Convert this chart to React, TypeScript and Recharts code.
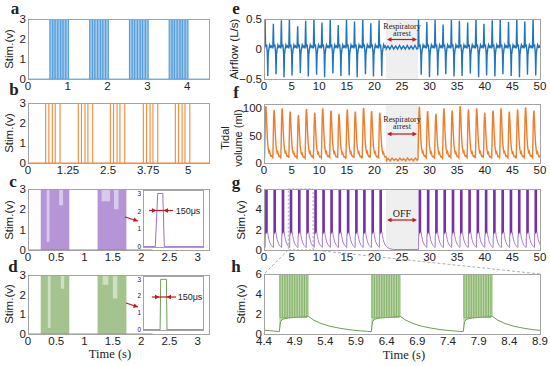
import React from "react";
import { ComposedChart, Line, Area, XAxis, YAxis, ReferenceArea } from "recharts";

const SANS = "'Liberation Sans', Arial, Helvetica, sans-serif";
const SERIF = "'Liberation Serif', 'Times New Roman', serif";
const INK = "#222";
const FRAME = "#a3a3a3";
const RED = "#c4161c";

// ---------- panel a ----------
const aTicks = [0, 1, 2, 3, 4];
const stimTicks = [0, 1, 2, 3];
const aBurstStart = [0.55, 1.55, 2.55, 3.55];
const aBurstEnd = [1.02, 2.02, 3.02, 4.02];
const aPulseOffsets = [0, 0.07, 0.13, 0.2, 0.27, 0.33, 0.4, 0.47];
const stimAmp = 3;

// ---------- panel b ----------
const bTicks = [0, 1.25, 2.5, 3.75, 5];
const bGroupStart = [0.55, 1.57, 2.57, 3.6, 4.6];
const bPulseOffsets = [0, 0.1, 0.21, 0.3, 0.45];

// ---------- panels c, d ----------
const cdTicks = [0, 0.5, 1, 1.5, 2, 2.5, 3];
const cdBurstStart = [0.225, 1.23];
const cdBurstEnd = [0.73, 1.74];
const cLightStart = [0.33, 0.55, 1.3, 1.52];
const cLightEnd = [0.38, 0.62, 1.45, 1.6];
const cLightLow = [0.4, 2.2, 2.4, 2.0];
const dLightStart = [0.35, 0.58, 1.32, 1.5];
const dLightEnd = [0.4, 0.64, 1.42, 1.58];
const dLightLow = [0.3, 2.3, 2.5, 1.8];
const cInsetT = [0, 205, 245, 330, 355, 1000];
const cInsetV = [0, 0, 3, 3, 0, 0];
const dInsetT = [0, 285, 295, 390, 400, 1000];
const dInsetV = [0, 0, 3, 3, 0, 0];

// ---------- panels e, f, g ----------
const longTicks = [0, 5, 10, 15, 20, 25, 30, 35, 40, 45, 50];
const arrestStart = 22.1;
const arrestEnd = 27.9;
const breathPre = [0.1, 1.6, 3.05, 4.5, 6.0, 7.45, 8.95, 10.4, 11.9, 13.35, 14.85, 16.3, 17.8, 19.25, 20.75];
const breathPost = [27.9, 29.4, 30.9, 32.35, 33.85, 35.3, 36.8, 38.3, 39.75, 41.25, 42.7, 44.2, 45.7, 47.15, 48.65];
const airShapeT = [0, 0.05, 0.1, 0.17, 0.26, 0.38, 0.5, 0.58, 0.66, 0.78, 0.92, 1.08, 1.22, 1.38];
const airShapeV = [0.02, 0.3, 0.5, 0.1, 0.05, 0.06, -0.06, -0.45, -0.1, 0.0, 0.07, 0.03, 0.05, 0.02];
const airPeak = [0.5, 0.42, 0.48, 0.5, 0.38, 0.47, 0.5, 0.44, 0.49, 0.4, 0.5, 0.46, 0.5, 0.43, 0.48,
  0.5, 0.45, 0.49, 0.41, 0.5, 0.47, 0.44, 0.5, 0.42, 0.48, 0.5, 0.45, 0.49, 0.46, 0.5];
const airTrough = [-0.45, -0.42, -0.47, -0.44, -0.4, -0.46, -0.43, -0.47, -0.41, -0.45, -0.44, -0.47, -0.42, -0.46, -0.45,
  -0.43, -0.47, -0.44, -0.42, -0.46, -0.45, -0.41, -0.47, -0.44, -0.46, -0.42, -0.45, -0.47, -0.43, -0.44];
const airRippleT = [22.15, 22.45, 22.8, 23.15, 23.5, 23.85, 24.2, 24.55, 24.9, 25.25, 25.6, 25.95, 26.3, 26.65, 27.0, 27.35, 27.7, 27.88];
const airRippleV = [0.0, 0.05, 0.0, 0.06, 0.0, 0.05, 0.0, 0.06, 0.0, 0.05, 0.0, 0.06, 0.0, 0.05, 0.0, 0.06, 0.0, 0.01];

const volShapeT = [0, 0.07, 0.14, 0.2, 0.26, 0.33, 0.43, 0.53, 0.65, 0.78, 0.9, 1.02, 1.15, 1.3, 1.44];
const volShapeV = [10, 42, 80, 97, 100, 86, 60, 40, 26, 19, 21, 15, 12, 13, 10];
const volPeak = [104, 97, 100, 94, 88, 99, 92, 100, 96, 90, 98, 94, 101, 95, 92,
  103, 95, 90, 100, 96, 104, 98, 100, 92, 96, 100, 94, 98, 102, 96];
const volRippleT = [22.2, 22.5, 22.85, 23.2, 23.55, 23.9, 24.25, 24.6, 24.95, 25.3, 25.65, 26.0, 26.35, 26.7, 27.05, 27.4, 27.75, 27.88];
const volRippleV = [4, 8, 4, 9, 5, 8, 4, 9, 5, 8, 4, 9, 5, 8, 4, 9, 5, 6];

const stimPre = [0.2, 1.7, 3.2, 4.65, 6.15, 7.65, 9.1, 10.55, 12.0, 13.5, 15.0, 16.5, 17.95, 19.45, 20.9];
const stimPost = [28.0, 29.5, 31.0, 32.5, 34.0, 35.5, 37.0, 38.5, 40.0, 41.5, 43.0, 44.5, 46.0, 47.5, 49.0];
const burstLen = 0.48;
const curveShapeT = [0, 0.02, 0.06, 0.15, 0.3, 0.48, 0.55, 0.68, 0.82, 0.98, 1.15, 1.32, 1.44];
const curveShapeV = [0.25, 1.25, 1.5, 1.6, 1.68, 1.75, 1.42, 1.05, 0.78, 0.58, 0.42, 0.32, 0.26];
const curveOffT = [22.8, 23.5, 27.95];
const curveOffV = [0.12, 0.05, 0.05];
const stimTicks6 = [0, 2, 4, 6];
const stimMax = 6;

// ---------- panel h ----------
const hTicks = [4.4, 4.9, 5.4, 5.9, 6.4, 6.9, 7.4, 7.9, 8.4, 8.9];
const zoomStart = 4.4;
const zoomEnd = 8.9;
const hOnsets = [4.65, 6.15, 7.65];
const hPulseOffsets = [0.01, 0.05, 0.09, 0.13, 0.17, 0.21, 0.25, 0.29, 0.33, 0.37, 0.41, 0.45];
const hCurveStart = 0.38;

type Row = { t: number; [k: string]: any };

// ---------- build rows ----------
function burstBlock(rows: Row[], key: string, starts: number[], ends: number[], top: number) {
  starts.forEach((s, i) => {
    rows.push({ t: s, [key]: 0 }, { t: s, [key]: top }, { t: ends[i], [key]: top }, { t: ends[i], [key]: 0 });
  });
}
function rangeBlock(rows: Row[], key: string, starts: number[], ends: number[], lows: number[], top: number) {
  starts.forEach((s, i) => {
    rows.push({ t: s, [key]: [lows[i], top] }, { t: ends[i], [key]: [lows[i], top] }, { t: ends[i], [key]: null });
  });
}

const rowsA: Row[] = [];
burstBlock(rowsA, "fill", aBurstStart, aBurstEnd, stimAmp);
rowsA.push({ t: 0, line: 0 });
aBurstStart.forEach((s) => aPulseOffsets.forEach((o) => rowsA.push({ t: s + o, line: 0 }, { t: s + o, line: stimAmp }, { t: s + o, line: 0 })));
rowsA.push({ t: 4.55, line: 0 });

const rowsB: Row[] = [{ t: 0, line: 0 }];
bGroupStart.forEach((s) => bPulseOffsets.forEach((o) => rowsB.push({ t: s + o, line: 0 }, { t: s + o, line: stimAmp }, { t: s + o, line: 0 })));
rowsB.push({ t: 5.65, line: 0 });

function cdRows(ls: number[], le: number[], lo: number[]) {
  const r: Row[] = [];
  burstBlock(r, "fill", cdBurstStart, cdBurstEnd, stimAmp);
  rangeBlock(r, "light", ls, le, lo, stimAmp);
  r.push({ t: 0, line: 0 }, { t: 2.2, line: 0 });
  return r;
}
const rowsC = cdRows(cLightStart, cLightEnd, cLightLow);
const rowsD = cdRows(dLightStart, dLightEnd, dLightLow);
const rowsCi: Row[] = cInsetT.map((t, i) => ({ t, line: cInsetV[i] }));
const rowsDi: Row[] = dInsetT.map((t, i) => ({ t, line: dInsetV[i] }));

const rowsE: Row[] = [{ t: arrestStart, gray: [-0.5, 0.5] }, { t: arrestEnd, gray: [-0.5, 0.5] }, { t: 0, line: 0.02 }];
const rowsF: Row[] = [{ t: arrestStart, gray: [0, 108] }, { t: arrestEnd, gray: [0, 108] }, { t: 0, line: 10 }];
[...breathPre, null, ...breathPost].forEach((b, j) => {
  if (b === null) {
    airRippleT.forEach((t, i) => rowsE.push({ t, line: airRippleV[i] }));
    volRippleT.forEach((t, i) => rowsF.push({ t, line: volRippleV[i] }));
    return;
  }
  const i = j > breathPre.length ? j - 1 : j;
  airShapeT.forEach((o, k) => {
    const v = k === 2 ? airPeak[i] : k === 7 ? airTrough[i] : k === 1 ? airPeak[i] * 0.6 : airShapeV[k];
    rowsE.push({ t: b + o, line: v });
  });
  volShapeT.forEach((o, k) => rowsF.push({ t: b + o, line: (volShapeV[k] * volPeak[i]) / 100 }));
});

const rowsG: Row[] = [{ t: arrestStart, gray: [0, stimMax] }, { t: arrestEnd, gray: [0, stimMax] }];
const stimAll = [...stimPre, ...stimPost];
burstBlock(rowsG, "bar", stimAll, stimAll.map((s) => s + burstLen), stimMax);
rowsG.push({ t: 0, curve: 0.25 });
stimPre.forEach((s) => curveShapeT.forEach((o, k) => rowsG.push({ t: s + o, curve: curveShapeV[k] })));
curveOffT.forEach((t, i) => rowsG.push({ t, curve: curveOffV[i] }));
stimPost.forEach((s) => curveShapeT.forEach((o, k) => rowsG.push({ t: s + o, curve: curveShapeV[k] })));

const rowsH: Row[] = [];
burstBlock(rowsH, "fill", hOnsets, hOnsets.map((s) => s + burstLen), stimMax);
hOnsets.forEach((s) => {
  hPulseOffsets.forEach((o) => rowsH.push({ t: s + o, pulse: 1.65 }, { t: s + o, pulse: stimMax }, { t: s + o, pulse: 1.65 }));
  rowsH.push({ t: s + 0.47, pulse: null });
});
rowsH.push({ t: zoomStart, curve: hCurveStart });
hOnsets.forEach((s) => curveShapeT.forEach((o, k) => rowsH.push({ t: s + o, curve: curveShapeV[k] })));

// ---------- layout ----------
const L = { x: 28, w: 181 };
const R = { x: 264, w: 276 };
const A = { ...L, y: 19, h: 60 };
const B = { ...L, y: 103, h: 60 };
const C = { ...L, y: 189, h: 61 };
const D = { ...L, y: 275, h: 59 };
const E = { ...R, y: 19, h: 60 };
const F = { ...R, y: 104, h: 59 };
const G = { ...R, y: 189, h: 61 };
const H = { ...R, y: 274, h: 60 };

const fmt = (v: number) => (v < 0 ? "\u2212" + Math.abs(v) : String(v));

function Panel(props: any) {
  const { x, y, w, h, rows, xDomain, yDomain, xTicks, yTicks, fs = 11.5, hideX = false, bg, children } = props;
  const padL = 40, padT = 9, padR = 10;
  const padB = hideX ? 0 : 18;
  const mB = hideX ? 6 : 0;
  const tick = { fill: INK, fontSize: fs, fontFamily: SANS };
  const H2 = h + padT + padB + mB;
  return (
    <div style={{ position: "absolute", left: x - padL, top: y - padT, width: w + padL + padR, height: H2 }}>
      {bg && <div style={{ position: "absolute", left: padL, top: padT, width: w, height: h, background: bg }} />}
      <ComposedChart width={w + padL + padR} height={H2} data={rows} margin={{ top: padT, right: padR, bottom: mB, left: 0 }}>
        <XAxis dataKey="t" type="number" domain={xDomain} ticks={xTicks} hide={hideX} height={padB} axisLine={false}
          tickLine={false} tickSize={0} tickMargin={3} interval={0} allowDataOverflow tick={tick} tickFormatter={fmt} />
        <YAxis type="number" domain={yDomain} ticks={yTicks} width={padL} axisLine={false} tickLine={false}
          tickSize={0} tickMargin={2} interval={0} allowDataOverflow tick={tick} tickFormatter={fmt} />
        {children}
      </ComposedChart>
      <div style={{ position: "absolute", left: padL, top: padT, width: w + 1, height: h + 1, border: `1px solid ${FRAME}`, boxSizing: "border-box", pointerEvents: "none" }} />
    </div>
  );
}

const ln = (key: string, color: string, width = 1) => (
  <Line dataKey={key} stroke={color} strokeWidth={width} dot={false} activeDot={false} isAnimationActive={false} type="linear" />
);
const ar = (key: string, color: string, stroke = "none", width = 1) => (
  <Area dataKey={key} fill={color} fillOpacity={1} stroke={stroke} strokeWidth={width} dot={false} activeDot={false} isAnimationActive={false} type="linear" />
);

function VLabel({ cx, cy, children, size = 11.5 }: any) {
  return (
    <div style={{ position: "absolute", left: cx, top: cy, transform: "translate(-50%, -50%) rotate(-90deg)", whiteSpace: "nowrap", fontFamily: SANS, fontSize: size, color: INK, textAlign: "center", lineHeight: "13px" }}>
      {children}
    </div>
  );
}
function Txt({ x, y, size, bold, serif = true, children, lh }: any) {
  return (
    <div style={{ position: "absolute", left: x, top: y, transform: "translate(-50%, -50%)", whiteSpace: "nowrap", fontFamily: serif ? SERIF : SANS, fontSize: size, fontWeight: bold ? 700 : 400, color: INK, textAlign: "center", lineHeight: lh ? lh + "px" : "normal" }}>
      {children}
    </div>
  );
}

function head(x1: number, y1: number, x2: number, y2: number, s = 4.5) {
  const a = Math.atan2(y2 - y1, x2 - x1);
  const bx = x2 - s * Math.cos(a), by = y2 - s * Math.sin(a);
  const px = 2.3 * Math.sin(a), py = -2.3 * Math.cos(a);
  return `${x2},${y2} ${bx + px},${by + py} ${bx - px},${by - py}`;
}
function DoubleArrow({ x1, x2, y }: any) {
  return (
    <g>
      <line x1={x1 + 3} x2={x2 - 3} y1={y} y2={y} stroke={RED} strokeWidth={1.2} />
      <polygon points={head(x2, y, x1, y)} fill={RED} />
      <polygon points={head(x1, y, x2, y)} fill={RED} />
    </g>
  );
}
function Pointer({ x1, y1, x2, y2 }: any) {
  return (
    <g>
      <line x1={x1} y1={y1} x2={x2} y2={y2} stroke={RED} strokeWidth={1.2} />
      <polygon points={head(x1, y1, x2, y2)} fill={RED} />
    </g>
  );
}
function Width({ x1, a, b, x2, y }: any) {
  return (
    <g>
      <line x1={x1} x2={x2} y1={y} y2={y} stroke={RED} strokeWidth={1.2} />
      <polygon points={head(x1, y, a, y)} fill={RED} />
      <polygon points={head(x2, y, b, y)} fill={RED} />
    </g>
  );
}

const gx = (t: number) => G.x + (t / 50) * G.w;

export default function App() {
  return (
    <div style={{ position: "fixed", left: 0, top: 0, width: 550, height: 366, background: "#fff", overflow: "hidden" }}>
      <Panel {...A} rows={rowsA} xDomain={[0, 4.55]} yDomain={[0, 3]} xTicks={aTicks} yTicks={stimTicks}>
        {ar("fill", "#9fc9ec")}
        {ln("line", "#4d98d8", 0.7)}
      </Panel>
      <Panel {...B} rows={rowsB} xDomain={[0, 5.65]} yDomain={[0, 3]} xTicks={bTicks} yTicks={stimTicks}>
        {ln("line", "#f08a3c", 1.1)}
      </Panel>
      <Panel {...C} rows={rowsC} xDomain={[0, 3.2]} yDomain={[0, 3]} xTicks={cdTicks} yTicks={stimTicks}>
        {ar("fill", "#b595d5")}
        {ar("light", "#d9c9ec")}
        {ln("line", "#9a6fd0", 1)}
      </Panel>
      <Panel x={143} y={190} w={60} h={57} rows={rowsCi} xDomain={[0, 1000]} yDomain={[-0.02, 3.2]} yTicks={stimTicks} fs={6.5} hideX bg="#fff">
        {ln("line", "#9b6fd0", 1)}
      </Panel>
      <Panel {...D} rows={rowsD} xDomain={[0, 3.2]} yDomain={[0, 3]} xTicks={cdTicks} yTicks={stimTicks}>
        {ar("fill", "#a4c38f")}
        {ar("light", "#cfe0c2")}
        {ln("line", "#7aa363", 1)}
      </Panel>
      <Panel x={143} y={276} w={60} h={54} rows={rowsDi} xDomain={[0, 1000]} yDomain={[-0.02, 3.2]} yTicks={stimTicks} fs={6.5} hideX bg="#fff">
        {ln("line", "#6f9e55", 1)}
      </Panel>
      <Panel {...E} rows={rowsE} xDomain={[0, 50]} yDomain={[-0.5, 0.5]} xTicks={longTicks} yTicks={[-0.5, 0, 0.5]}>
        {ar("gray", "#efefef")}
        {ln("line", "#1f74bd", 1.4)}
      </Panel>
      <Panel {...F} rows={rowsF} xDomain={[0, 50]} yDomain={[0, 108]} xTicks={longTicks} yTicks={[0, 50, 100]}>
        {ar("gray", "#efefef")}
        {ln("line", "#ee7d2e", 1.4)}
      </Panel>
      <Panel {...G} rows={rowsG} xDomain={[0, 50]} yDomain={[0, 6]} xTicks={longTicks} yTicks={stimTicks6}>
        {ar("gray", "#efefef")}
        {ar("bar", "#7331a8")}
        {ar("curve", "#ffffff", "#a47fd0", 1)}
        <ReferenceArea x1={zoomStart} x2={zoomEnd} y1={0} y2={stimMax} fill="none" stroke="#8c8c8c" strokeDasharray="2 2" strokeWidth={0.8} />
      </Panel>
      <Panel {...H} rows={rowsH} xDomain={[zoomStart, zoomEnd]} yDomain={[0, 6]} xTicks={hTicks} yTicks={stimTicks6}>
        {ar("fill", "#b9d6a6")}
        {ln("pulse", "#84b06a", 0.7)}
        {ar("curve", "#ffffff", "#6f9c58", 1)}
      </Panel>

      <svg width={550} height={366} style={{ position: "absolute", left: 0, top: 0, pointerEvents: "none" }}>
        <line x1={gx(zoomStart)} y1={G.y + G.h} x2={H.x} y2={H.y} stroke="#999" strokeDasharray="3 2" strokeWidth={0.8} />
        <line x1={gx(zoomEnd)} y1={G.y + G.h} x2={H.x + H.w} y2={H.y} stroke="#999" strokeDasharray="3 2" strokeWidth={0.8} />
        <DoubleArrow x1={387} x2={417} y={39.5} />
        <DoubleArrow x1={387} x2={417} y={134} />
        <DoubleArrow x1={387} x2={417} y={220} />
        <Pointer x1={125} y1={217} x2={138} y2={221} />
        <Width x1={149} a={156.5} b={163.5} x2={173} y={210.5} />
        <Pointer x1={126} y1={303} x2={138} y2={307} />
        <Width x1={152} a={159.5} b={166.5} x2={176} y={297} />
      </svg>

      <Txt x={188} y={210.5} size={9} serif={false}>150μs</Txt>
      <Txt x={190} y={297} size={9} serif={false}>150μs</Txt>
      <Txt x={402} y={29.5} size={8} lh={7.5}>Respiratory<br />arrest</Txt>
      <Txt x={402} y={122.5} size={8} lh={7.5}>Respiratory<br />arrest</Txt>
      <Txt x={402} y={213} size={10}>OFF</Txt>

      <VLabel cx={9} cy={49}>Stim.(v)</VLabel>
      <VLabel cx={9} cy={133}>Stim.(v)</VLabel>
      <VLabel cx={9} cy={220}>Stim.(v)</VLabel>
      <VLabel cx={9} cy={304}>Stim.(v)</VLabel>
      <VLabel cx={234} cy={49}>Airflow (L/s)</VLabel>
      <VLabel cx={232} cy={138} size={11}>Tidal<br />volume (ml)</VLabel>
      <VLabel cx={241} cy={220}>Stim.(v)</VLabel>
      <VLabel cx={241} cy={304}>Stim.(v)</VLabel>

      <Txt x={15} y={9} size={17} lh={14} bold>a</Txt>
      <Txt x={14} y={90} size={17} lh={14} bold>b</Txt>
      <Txt x={13} y={182} size={17} lh={14} bold>c</Txt>
      <Txt x={13} y={267} size={17} lh={14} bold>d</Txt>
      <Txt x={236} y={9} size={17} lh={14} bold>e</Txt>
      <Txt x={236} y={93} size={17} lh={14} bold>f</Txt>
      <Txt x={236} y={183} size={17} lh={14} bold>g</Txt>
      <Txt x={236} y={267} size={17} lh={14} bold>h</Txt>

      <Txt x={110} y={354} size={12.5}>Time (s)</Txt>
      <Txt x={404} y={355} size={12.5}>Time (s)</Txt>
    </div>
  );
}
